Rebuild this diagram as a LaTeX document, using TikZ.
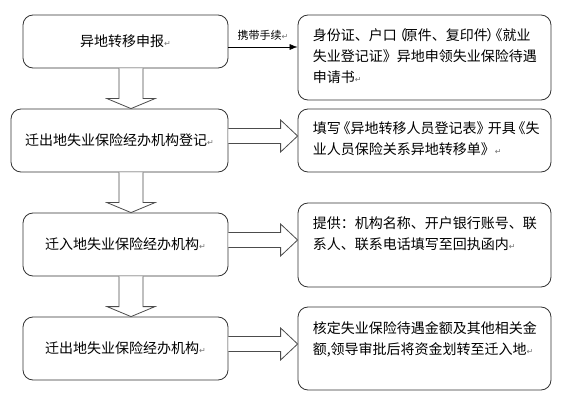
\documentclass[tikz,border=0pt]{standalone}
\usepackage{fontspec}
\newfontfamily\cjk{Noto Sans CJK SC}
\newfontfamily\symfont{DejaVu Sans}
\usetikzlibrary{calc,arrows.meta}
\newcommand\pmark{{\symfont\fontsize{8pt}{8pt}\selectfont\color{black!55}↵}}
\tikzset{
    lbox/.style={draw=black!80, line width=0.8pt, rounded corners=10pt,
      minimum width=205pt, minimum height=63pt, inner sep=0pt,
      font=\cjk\fontsize{14pt}{16pt}\selectfont},
    rbox/.style={draw=black!80, line width=0.8pt, rounded corners=10pt,
      minimum width=253pt, inner sep=0pt},
    rtext/.style={anchor=north west, inner sep=0pt, align=left,
      font=\cjk\fontsize{14pt}{21pt}\selectfont},
    blockarrow/.style={draw=black!70, line width=0.8pt, fill=white},
  }
\begin{document}
\begin{tikzpicture}[x=1pt,y=-1pt]
  \useasboundingbox (0,0) rectangle (563,409);
  %left column
  \node[lbox, minimum height=53pt] (l1) at (125.5,41.5) {异地转移申报\pmark};
  \node[lbox, minimum width=217pt] (l2) at (119.5,140.5) {迁出地失业保险经办机构登记\pmark};
  \node[lbox] (l3) at (125.5,244.5) {迁入地失业保险经办机构\pmark};
  \node[lbox] (l4) at (125.5,348.5) {迁出地失业保险经办机构\pmark};
  %right column
  \node[rbox, minimum height=85pt] (r1) at (424.5,57.5) {};
  \node[rbox, minimum height=63pt] (r2) at (424.5,140.5) {};
  \node[rbox, minimum height=84pt] (r3) at (424.5,245) {};
  \node[rbox, minimum height=83pt] (r4) at (424.5,348.5) {};
  \node[rtext] (t1) at ($(r1.north west)+(15,14)$)
    {身份证、户口\kern-0.3em（\kern-0.2em原件、复印件\kern-0.1em）\kern-0.85em《就业\\失业登记证》异地申领失业保险待遇\\申请书\pmark};
  \node[rtext] (t2) at ($(r2.north west)+(15,13)$)
    {填写\kern-0.3em《异地转移人员登记表》\kern-0.2em开具\kern-0.3em《失\\业人员保险关系异地转移单》\pmark};
  \node[rtext] (t3) at ($(r3.north west)+(15,14)$)
    {提供：机构名称、开户银行账号、联\\系人、联系电话填写至回执函内\pmark};
  \node[rtext] (t4) at ($(r4.north west)+(15,15)$)
    {核定失业保险待遇金额及其他相关金\\额,领导审批后将资金划转至迁入地\pmark};
  %connectors
  \draw[black, line width=0.6pt, -{Latex[length=8pt,width=6pt]}]
    ([yshift=-5.5pt]l1.east) -- ([yshift=-5.5pt]l1.east -| r1.west)
    node[midway, above=6.5pt, inner sep=0pt, font=\cjk\fontsize{11pt}{12pt}\selectfont] (carry) {携带手续\pmark};
  \foreach \a/\b in {l1/l2,l2/l3,l3/l4}
    \draw[blockarrow] let \p1=(\a.south), \p2=(\b.north) in
      (119pt,\y1) -- (119pt,\y2+10pt) -- (107pt,\y2+10pt) -- (131pt,\y2)
      -- (155pt,\y2+10pt) -- (143pt,\y2+10pt) -- (143pt,\y1);
  \foreach \a/\b in {l2/r2,l3/r3,l4/r4}
    \draw[blockarrow] let \p1=(\a.east), \p2=(\b.west) in
      (\x1,\y1+12pt) -- (\x2-17pt,\y1+12pt) -- (\x2-17pt,\y1+20.5pt) -- (\x2,\y1+4.5pt)
      -- (\x2-17pt,\y1-11.5pt) -- (\x2-17pt,\y1-3pt) -- (\x1,\y1-3pt);
\end{tikzpicture}
\end{document}
